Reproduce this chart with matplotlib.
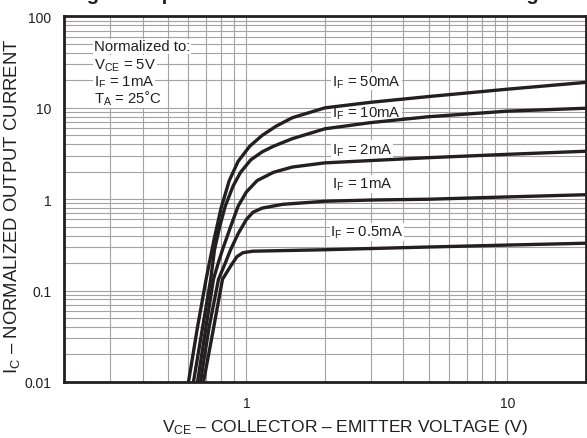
import matplotlib
matplotlib.use('Agg')
import matplotlib.pyplot as plt
import numpy as np

plt.rcParams['font.family'] = ['Liberation Sans', 'DejaVu Sans']
plt.rcParams['mathtext.fontset'] = 'custom'
plt.rcParams['mathtext.rm'] = 'Liberation Sans'
plt.rcParams['mathtext.it'] = 'Liberation Sans:italic'

# curves (VCE in V, normalized IC)
vce_50 = [0.60, 0.65, 0.70, 0.75, 0.80, 0.86, 0.93, 1.03, 1.15, 1.3, 1.5, 2.0, 3.0, 5.0, 10, 20]
ic_50 = [0.01, 0.04, 0.13, 0.35, 0.8, 1.6, 2.6, 3.8, 5.0, 6.3, 7.8, 10.0, 11.5, 13.3, 16.0, 19.0]

vce_10 = [0.627, 0.68, 0.73, 0.755, 0.79, 0.83, 0.89, 0.95, 1.04, 1.15, 1.27, 1.5, 2.0, 3.0, 5.0, 10, 20]
ic_10 = [0.01, 0.04, 0.133, 0.28, 0.5, 0.84, 1.4, 1.97, 2.7, 3.3, 3.8, 4.6, 5.9, 6.9, 8.0, 9.2, 9.9]

vce_2 = [0.65, 0.70, 0.748, 0.78, 0.81, 0.87, 0.93, 1.0, 1.1, 1.27, 1.5, 2.0, 3.0, 5.0, 10, 20]
ic_2 = [0.01, 0.04, 0.133, 0.2, 0.28, 0.5, 0.84, 1.2, 1.6, 1.97, 2.25, 2.5, 2.65, 2.85, 3.1, 3.35]

vce_1 = [0.667, 0.72, 0.782, 0.83, 0.87, 0.93, 1.0, 1.06, 1.15, 1.38, 2.0, 3.0, 5.0, 10, 20]
ic_1 = [0.01, 0.04, 0.133, 0.2, 0.28, 0.42, 0.6, 0.72, 0.8, 0.88, 0.95, 0.98, 1.0, 1.06, 1.12]

vce_05 = [0.685, 0.75, 0.81, 0.87, 0.92, 0.97, 1.06, 2.0, 5.0, 10, 20]
ic_05 = [0.01, 0.04, 0.133, 0.185, 0.235, 0.26, 0.27, 0.28, 0.30, 0.315, 0.33]

curves = [(vce_50, ic_50), (vce_10, ic_10), (vce_2, ic_2), (vce_1, ic_1), (vce_05, ic_05)]
curve_labels = ['50mA', '10mA', '2mA', '1mA', '0.5mA']
label_x = [2.13, 2.13, 2.13, 2.13, 2.1]
label_y = [19.5, 8.9, 3.5, 1.46, 0.435]

normalized_lines = ['Normalized to:', r'$\mathregular{V_{CE}}$ = 5V',
                    r'$\mathregular{I_F}$ = 1mA', r'$\mathregular{T_A}$ = 25˚C']
normalized_y = [47, 29.9, 19.5, 13.0]

fig = plt.figure(figsize=(5.87, 4.39), dpi=100)
ax = fig.add_axes([0.109, 0.1276, 0.889, 0.8326])

ax.set_xscale('log')
ax.set_yscale('log')
ax.set_xlim(0.2, 20)
ax.set_ylim(0.01, 100)

grid_c = '#a3a3a3'
# vertical grid stops at 10 V
for dec in [0.1, 1]:
    for m in range(2, 11):
        v = dec * m
        if v >= 0.3:
            ax.axvline(v, color=grid_c, lw=0.8, zorder=1)
for dec in [0.01, 0.1, 1, 10]:
    for m in range(2, 10):
        ax.axhline(dec * m, color=grid_c, lw=0.8, zorder=1)
for v in [0.1, 1, 10]:
    ax.axhline(v, color=grid_c, lw=0.8, zorder=1)

for (xs, ys) in curves:
    ax.plot(xs, ys, color='#231f20', lw=2.4, solid_capstyle='butt', zorder=4)

box = dict(facecolor='white', edgecolor='none', pad=0.6)
for lab, lx, ly in zip(curve_labels, label_x, label_y):
    ax.text(lx, ly, r'$\mathregular{I_F}$ = ' + lab, fontsize=10.7, ha='left', va='center',
            bbox=box, zorder=3, color='#231f20')
for txt, ny in zip(normalized_lines, normalized_y):
    ax.text(0.26, ny, txt, fontsize=10.7, ha='left', va='center', bbox=box, zorder=3,
            color='#231f20')

for s in ax.spines.values():
    s.set_linewidth(2.0)
    s.set_color('#231f20')
    s.set_zorder(5)

ax.set_xticks([1, 10])
ax.set_xticklabels(['1', '10'])
ax.set_xticks([], minor=True)
ax.set_yticks([0.01, 0.1, 1, 10, 100])
ax.set_yticklabels(['0.01', '0.1', '1', '10', '100'])
ax.set_yticks([], minor=True)
ax.tick_params(length=0, labelsize=10, pad=9, colors='#231f20')
ax.tick_params(axis='x', pad=10)

ax.set_xlabel(r'$\mathregular{V_{CE}}$ – COLLECTOR – EMITTER VOLTAGE (V)', fontsize=12.5,
              color='#231f20')
ax.set_ylabel(r'$\mathregular{I_C}$ – NORMALIZED OUTPUT CURRENT', fontsize=13.3,
              color='#231f20')
ax.xaxis.set_label_coords(0.538, -0.121)
ax.xaxis.label.set_va('center')
ax.yaxis.set_label_coords(-0.0996, 0.484)
ax.yaxis.label.set_va('center')

# figure caption cut off by the top edge in the reference
fig.text(0.118, 0.999, 'Fig. 4 Output Current vs. Collector-Emitter Voltage',
         fontsize=14.5, fontweight='bold', ha='left', va='baseline', color='#231f20')

fig.savefig('out.png', dpi=100)
